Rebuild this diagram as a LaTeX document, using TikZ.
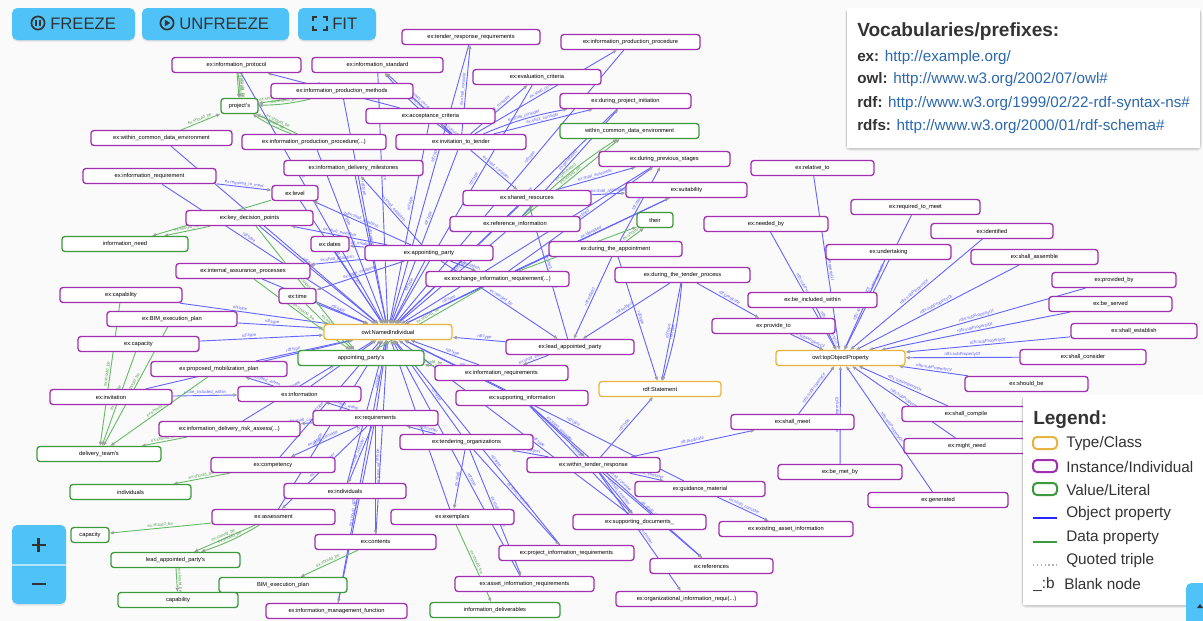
\documentclass[tikz,border=0pt]{standalone}
\usepackage{fontspec}
\setmainfont{Liberation Sans}
\usetikzlibrary{arrows.meta}
\pgfdeclarelayer{back}
\pgfdeclarelayer{edges}
\pgfsetlayers{back,edges,main}

\definecolor{bgc}{HTML}{FAFAFA}
\definecolor{purp}{HTML}{A030B0}
\definecolor{grn}{HTML}{3C9A3C}
\definecolor{orng}{HTML}{E8B440}
\definecolor{bl}{HTML}{6464FF}
\definecolor{gl}{HTML}{66BB66}
\definecolor{btn}{HTML}{4FC3F7}
\definecolor{txt}{HTML}{333333}
\definecolor{url}{HTML}{2B68AE}

\tikzset{
  nd/.style={fill=white, rounded corners=2.2pt, line width=1pt, inner sep=0pt,
    minimum height=11.25pt, font=\fontsize{4.3}{5}\selectfont, text=black},
  ind/.style={nd, draw=purp},
  cls/.style={nd, draw=orng},
  lit/.style={nd, draw=grn},
  oe/.style={draw=bl, line width=0.68pt, -{Triangle[length=3pt,width=2.4pt,color=gray!75]}},
  de/.style={draw=gl, line width=0.68pt, -{Triangle[length=3pt,width=2.4pt,color=gray!75]}},
  ol/.style={sloped, above, inner sep=0.4pt, font=\fontsize{3.2}{3.5}\selectfont, text=bl},
  dl/.style={sloped, above, inner sep=0.4pt, font=\fontsize{3.2}{3.5}\selectfont, text=gl!85!black},
  legtxt/.style={anchor=west, inner sep=0pt, font=\fontsize{11.5}{13}\selectfont, text=txt},
  voctxt/.style={anchor=west, inner sep=0pt, font=\fontsize{11.4}{13}\selectfont, text=txt},
  btntxt/.style={anchor=west, inner sep=0pt, font=\fontsize{12.5}{14}\selectfont, text=txt},
}

% box from x1 to x2 centred at height y
\newcommand\nodebox[6]{\node[#1, minimum width={(#4-#3)*0.75pt}] (#2) at ({(#3+#4)/2},#5) {#6};}
\newcommand\eo[3]{\draw[oe] (#1) -- node[ol]{#3} (#2);}
\newcommand\eob[3]{\draw[oe] (#1) to[bend left=6] node[ol]{#3} (#2);}
\newcommand\ed[3]{\draw[de] (#1) -- node[dl]{#3} (#2);}
\newcommand\edb[3]{\draw[de] (#1) to[bend left=6] node[dl]{#3} (#2);}
\newcommand\tyedge[1]{\draw[oe] (#1) -- node[ol, pos=0.4]{rdf:type} (ni);}
\newcommand\subedge[1]{\eo{#1}{topp}{rdfs:subPropertyOf}}
\newcommand\softshadow[4]{\foreach \k in {0.5,1,...,3}{\fill[black,opacity=0.035,rounded corners=3]
  ({#1-\k*0.6},{#2+\k*0.3}) rectangle ({#3+\k*0.6},{#4+\k});}}

\begin{document}
\begin{tikzpicture}[x=0.75pt,y=-0.75pt]
\begin{pgfonlayer}{back}
\fill[bgc] (0,0) rectangle (1203,621);
\end{pgfonlayer}
\useasboundingbox (0,0) rectangle (1203,621);

% ---------- individuals ----------
\nodebox{ind}{iprot}{172}{301}{65}{ex:information\_protocol}
\nodebox{ind}{istd}{312}{443}{65}{ex:information\_standard}
\nodebox{ind}{trr}{402}{540}{37}{ex:tender\_response\_requirements}
\nodebox{ind}{ipp}{561}{700}{42}{ex:information\_production\_procedure}
\nodebox{ind}{evc}{473}{601}{77}{ex:evaluation\_criteria}
\nodebox{ind}{ipm}{271}{413}{91}{ex:information\_production\_methods}
\nodebox{ind}{acc}{366}{495}{116}{ex:acceptance\_criteria}
\nodebox{ind}{dpi}{560}{691}{101}{ex:during\_project\_initiation}
\nodebox{ind}{wcde}{91}{232}{138}{ex:within\_common\_data\_environment}
\nodebox{ind}{ippx}{242}{386}{142}{ex:information\_production\_procedure(...)}
\nodebox{ind}{itt}{396}{526}{142}{ex:invitation\_to\_tender}
\nodebox{ind}{ireq}{83}{216}{176}{ex:information\_requirement}
\nodebox{ind}{idm}{284}{423}{168}{ex:information\_delivery\_milestones}
\nodebox{ind}{dps}{599}{730}{159}{ex:during\_previous\_stages}
\nodebox{ind}{lvl}{272}{318}{193}{ex:level}
\nodebox{ind}{shr}{463}{591}{198}{ex:shared\_resources}
\nodebox{ind}{suit}{626}{747}{190}{ex:suitability}
\nodebox{ind}{rel}{751}{874}{168}{ex:relative\_to}
\nodebox{ind}{rtm}{851}{980}{207}{ex:required\_to\_meet}
\nodebox{ind}{idf}{931}{1053}{231}{ex:identified}
\nodebox{ind}{sas}{971}{1098}{257}{ex:shall\_assemble}
\nodebox{ind}{pby}{1052}{1176}{280}{ex:provided\_by}
\nodebox{ind}{bsv}{1049}{1172}{304}{ex:be\_served}
\nodebox{ind}{sest}{1071}{1197}{331}{ex:shall\_establish}
\nodebox{ind}{scon}{1020}{1146}{357}{ex:shall\_consider}
\nodebox{ind}{sbe}{965}{1088}{384}{ex:should\_be}
\nodebox{ind}{scmp}{902}{1030}{414}{ex:shall\_compile}
\nodebox{ind}{mnd}{904}{1030}{446}{ex:might\_need}
\nodebox{ind}{gen}{868}{1008}{500}{ex:generated}
\nodebox{ind}{und}{826}{951}{252}{ex:undertaking}
\nodebox{ind}{nby}{704}{828}{224}{ex:needed\_by}
\nodebox{ind}{biw}{748}{877}{300}{ex:be\_included\_within}
\nodebox{ind}{pto}{712}{835}{326}{ex:provide\_to}
\nodebox{ind}{dtp}{615}{750}{275}{ex:during\_the\_tender\_process}
\nodebox{ind}{dta}{549}{682}{249}{ex:during\_the\_appointment}
\nodebox{ind}{refi}{450}{580}{224}{ex:reference\_information}
\nodebox{ind}{dat}{311}{349}{244}{ex:dates}
\nodebox{ind}{apt}{365}{493}{253}{ex:appointing\_party}
\nodebox{ind}{kdp}{186}{313}{218}{ex:key\_decision\_points}
\nodebox{ind}{iap}{176}{310}{271}{ex:internal\_assurance\_processes}
\nodebox{ind}{eir}{426}{569}{279}{ex:exchange\_information\_requirement(...)}
\nodebox{ind}{tim}{279}{316}{296}{ex:time}
\nodebox{ind}{cap}{60}{182}{295}{ex:capability}
\nodebox{ind}{bep}{107}{237}{319}{ex:BIM\_execution\_plan}
\nodebox{ind}{cpc}{78}{199}{344}{ex:capacity}
\nodebox{ind}{lap}{506}{634}{347}{ex:lead\_appointed\_party}
\nodebox{ind}{ireqs}{435}{568}{373}{ex:information\_requirements}
\nodebox{ind}{pmp}{151}{287}{369}{ex:proposed\_mobilization\_plan}
\nodebox{ind}{inf}{238}{361}{394}{ex:information}
\nodebox{ind}{inv}{50}{172}{397}{ex:invitation}
\nodebox{ind}{sinf}{456}{588}{398}{ex:supporting\_information}
\nodebox{ind}{req}{313}{438}{418}{ex:requirements}
\nodebox{ind}{idra}{159}{300}{429}{ex:information\_delivery\_risk\_assess(...)}
\nodebox{ind}{tor}{400}{533}{442}{ex:tendering\_organizations}
\nodebox{ind}{wtr}{527}{660}{465}{ex:within\_tender\_response}
\nodebox{ind}{smt}{731}{854}{422}{ex:shall\_meet}
\nodebox{ind}{bmb}{778}{902}{472}{ex:be\_met\_by}
\nodebox{ind}{cmp}{211}{335}{465}{ex:competency}
\nodebox{ind}{indv}{284}{406}{491}{ex:individuals}
\nodebox{ind}{gdm}{635}{765}{489}{ex:guidance\_material}
\nodebox{ind}{ass}{212}{335}{517}{ex:assessment}
\nodebox{ind}{exm}{391}{514}{517}{ex:exemplars}
\nodebox{ind}{sdoc}{573}{706}{522}{ex:supporting\_documents\_}
\nodebox{ind}{eai}{719}{853}{529}{ex:existing\_asset\_information}
\nodebox{ind}{cnt}{315}{436}{542}{ex:contents}
\nodebox{ind}{pir}{499}{634}{553}{ex:project\_information\_requirements}
\nodebox{ind}{refs}{650}{773}{566}{ex:references}
\nodebox{ind}{air}{455}{594}{584}{ex:asset\_information\_requirements}
\nodebox{ind}{imf}{266}{407}{611}{ex:information\_management\_function}
\nodebox{ind}{oir}{616}{757}{599}{ex:organizational\_information\_requi(...)}

% ---------- classes ----------
\nodebox{cls}{ni}{324}{452}{332}{owl:NamedIndividual}
\nodebox{cls}{topp}{776}{905}{358}{owl:topObjectProperty}
\nodebox{cls}{stm}{599}{721}{389}{rdf:Statement}

% ---------- literals ----------
\nodebox{lit}{prj}{221}{258}{106}{project's}
\nodebox{lit}{lcde}{560}{699}{131}{within\_common\_data\_environment}
\nodebox{lit}{their}{637}{673}{220}{their}
\nodebox{lit}{need}{62}{188}{244}{information\_need}
\nodebox{lit}{aps}{298}{424}{358}{appointing\_party's}
\nodebox{lit}{dtm}{37}{161}{454}{delivery\_team's}
\nodebox{lit}{lindv}{70}{191}{492}{individuals}
\nodebox{lit}{lcap}{71}{109}{535}{capacity}
\nodebox{lit}{laps}{111}{240}{560}{lead\_appointed\_party's}
\nodebox{lit}{lbep}{219}{347}{585}{BIM\_execution\_plan}
\nodebox{lit}{lcapb}{118}{238}{600}{capability}
\nodebox{lit}{ldel}{430}{560}{610}{information\_deliverables}

% ---------- connectors ----------
\begin{pgfonlayer}{edges}
% typing of the individuals
\tyedge{iprot}\tyedge{istd}\tyedge{trr}\tyedge{ipp}\tyedge{evc}\tyedge{ipm}
\tyedge{acc}\tyedge{dpi}\tyedge{wcde}\tyedge{ippx}\tyedge{itt}\tyedge{ireq}
\tyedge{idm}\tyedge{dps}\tyedge{lvl}\tyedge{shr}\tyedge{suit}\tyedge{refi}
\tyedge{dat}\tyedge{apt}\tyedge{kdp}\tyedge{iap}\tyedge{eir}\tyedge{tim}
\tyedge{cap}\tyedge{bep}\tyedge{cpc}\tyedge{lap}\tyedge{ireqs}\tyedge{pmp}
\tyedge{inf}\tyedge{inv}\tyedge{sinf}\tyedge{req}\tyedge{idra}\tyedge{tor}
\tyedge{cmp}\tyedge{indv}\tyedge{gdm}\tyedge{ass}\tyedge{exm}\tyedge{sdoc}
\tyedge{cnt}\tyedge{pir}\tyedge{air}\tyedge{imf}

% property hierarchy
\subedge{rel}\subedge{rtm}\subedge{idf}\subedge{sas}\subedge{pby}\subedge{bsv}
\subedge{sest}\subedge{scon}\subedge{sbe}\subedge{scmp}\subedge{mnd}\subedge{gen}
\subedge{und}\subedge{nby}\subedge{biw}\subedge{pto}\subedge{smt}\subedge{bmb}

% object properties between individuals
\eo{itt}{trr}{ex:shall\_consider}
\eo{itt}{evc}{ex:shall\_consider}
\eo{itt}{ipp}{ex:shall\_consider}
\eo{itt}{dpi}{ex:shall\_consider}
\eob{itt}{dpi}{ex:shall\_consider}
\eo{itt}{istd}{ex:shall\_consider}
\eob{itt}{istd}{ex:shall\_consider}
\eo{itt}{shr}{ex:shall\_consider}
\eo{itt}{acc}{ex:shall\_consider}
\eo{acc}{iprot}{ex:shall\_establish}
\eo{ireq}{lvl}{ex:required\_to\_meet}
\eo{apt}{dat}{ex:shall\_establish}
\eo{apt}{idm}{ex:shall\_establish}
\eo{apt}{kdp}{ex:shall\_establish}
\eo{apt}{iap}{ex:shall\_establish}
\eo{apt}{eir}{ex:shall\_establish}
\eo{apt}{tim}{ex:shall\_establish}
\eo{apt}{lvl}{ex:shall\_establish}
\eo{refi}{dpi}{ex:generated}
\eo{shr}{dps}{ex:shall\_assemble}
\eo{eir}{dps}{ex:identified}
\eo{shr}{suit}{ex:shall\_assemble}
\eo{eir}{suit}{ex:identified}
\eo{lap}{ireqs}{ex:shall\_establish}
\eo{lap}{shr}{ex:shall\_assemble}
\eo{apt}{lap}{ex:needed\_by}
\eo{sinf}{wtr}{ex:shall\_consider}
\eo{inv}{inf}{ex:be\_included\_within}
\eo{req}{inf}{ex:be\_included\_within}
\eo{inf}{pmp}{ex:be\_included\_within}
\eo{req}{idra}{ex:shall\_consider}
\eo{req}{cmp}{ex:shall\_consider}
\eo{req}{indv}{ex:shall\_consider}
\eo{req}{ass}{ex:shall\_consider}
\eo{req}{cnt}{ex:shall\_consider}
\eo{req}{imf}{ex:should\_be}
\eo{tor}{req}{ex:shall\_consider}
\eo{tor}{exm}{ex:shall}
\eo{tor}{air}{ex:shall\_consider}
\eo{tor}{pir}{ex:shall\_consider}
\eo{wtr}{gdm}{ex:shall\_consider}
\eo{wtr}{sdoc}{ex:shall\_consider}
\eo{wtr}{refs}{ex:shall\_consider}
\eo{wtr}{oir}{ex:shall\_consider}
\eo{gdm}{eai}{ex:shall\_consider}
\eo{sinf}{sdoc}{ex:shall\_consider}
\eo{sinf}{refs}{ex:shall\_consider}

% quoted statements
\eo{wtr}{smt}{rdf:predicate}
\eo{wtr}{stm}{rdf:type}
\eo{wtr}{tor}{rdf:subject}
\eo{dtp}{stm}{rdf:type}
\eob{dtp}{stm}{rdf:type}
\eo{dta}{stm}{rdf:type}
\eo{dtp}{pto}{rdf:predicate}
\eo{dtp}{lap}{rdf:subject}
\eo{dta}{lap}{rdf:subject}
\eo{dta}{dps}{rdf:object}

% data properties
\ed{iprot}{prj}{ex:should\_be}\edb{iprot}{prj}{ex:should\_be}
\ed{ipm}{prj}{ex:should\_be}\edb{ipm}{prj}{ex:should\_be}
\ed{wcde}{prj}{ex:should\_be}
\ed{ippx}{prj}{ex:should\_be}\edb{ippx}{prj}{ex:should\_be}
\ed{kdp}{need}{ex:should\_be}
\ed{lvl}{need}{ex:should\_be}
\ed{cap}{dtm}{ex:should\_be}
\ed{bep}{dtm}{ex:should\_be}
\ed{cpc}{dtm}{ex:should\_be}
\ed{pmp}{dtm}{ex:should\_be}
\ed{idra}{dtm}{ex:should\_be}
\ed{cmp}{lindv}{ex:should\_be}
\ed{ass}{lcap}{ex:should\_be}
\ed{ass}{laps}{ex:should\_be}\edb{ass}{laps}{ex:should\_be}
\ed{laps}{lcapb}{ex:should\_be}
\ed{cnt}{lbep}{ex:should\_be}
\ed{exm}{ldel}{ex:should\_be}
\ed{dta}{their}{ex:should\_be}
\ed{refi}{lcde}{ex:should\_be}\edb{refi}{lcde}{ex:generated}
\ed{eir}{aps}{ex:should\_be}
\ed{ireqs}{aps}{ex:should\_be}
\ed{kdp}{aps}{ex:should\_be}
\ed{iap}{aps}{ex:should\_be}
\ed{tim}{aps}{ex:should\_be}
\ed{eir}{their}{ex:should\_be}
\end{pgfonlayer}

% ---------- prefix panel ----------
\softshadow{847}{8}{1200}{148}
\fill[white] (847,8) rectangle (1200,148);
\node[anchor=west, inner sep=0pt, font=\fontsize{14.3}{16}\selectfont\bfseries, text=txt] (vtitle) at (857,32) {Vocabularies/prefixes:};
\node[voctxt] (vex) at (857,58) {\textbf{ex:} \textcolor{url}{http://example.org/}};
\node[voctxt] (vowl) at (857,80) {\textbf{owl:} \textcolor{url}{http://www.w3.org/2002/07/owl\#}};
\node[voctxt] (vrdf) at (857,104) {\textbf{rdf:} \textcolor{url}{http://www.w3.org/1999/02/22-rdf-syntax-ns\#}};
\node[voctxt] (vrdfs) at (857,127) {\textbf{rdfs:} \textcolor{url}{http://www.w3.org/2000/01/rdf-schema\#}};

% ---------- legend ----------
\softshadow{1023}{395}{1203}{605}
\fill[white] (1023,395) rectangle (1203,605);
\node[anchor=west, inner sep=0pt, font=\fontsize{14.25}{16}\selectfont\bfseries, text=txt] (lgt) at (1033,420) {Legend:};
\draw[orng, line width=1.5pt, rounded corners=3pt] (1033,437) rectangle (1057,449);
\draw[purp, line width=1.5pt, rounded corners=3pt] (1033,460) rectangle (1057,472);
\draw[grn, line width=1.5pt, rounded corners=3pt] (1033,483) rectangle (1057,495);
\draw[blue!85, line width=1.4pt] (1033,518) -- (1057,518);
\draw[grn, line width=1.4pt] (1033,542) -- (1057,542);
\draw[gray!60, line width=0.9pt, dotted] (1033,565) -- (1057,565);
\node[legtxt] (l1) at (1066,444) {Type/Class};
\node[legtxt] (l2) at (1066,467) {Instance/Individual};
\node[legtxt] (l3) at (1066,490) {Value/Literal};
\node[legtxt] (l4) at (1066,514) {Object property};
\node[legtxt] (l5) at (1066,538) {Data property};
\node[legtxt] (l6) at (1066,561) {Quoted triple};
\node[legtxt] (l7) at (1033,584) {\_:b};
\node[legtxt] (l8) at (1064,584) {Blank node};

% ---------- control buttons ----------
\foreach \a/\b in {12/135,142/289,298/376}{
  \fill[black,opacity=0.06,rounded corners=4] (\a,9) rectangle (\b,42);
  \fill[black,opacity=0.06,rounded corners=4] (\a,9) rectangle (\b,41);
  \fill[btn,rounded corners=4] (\a,8) rectangle (\b,40);}
% pause icon
\draw[txt, line width=1.3pt] (38,23) circle (6.6);
\draw[txt, line width=1.3pt] (36.2,19.8) -- (36.2,26.2) (39.8,19.8) -- (39.8,26.2);
\node[btntxt] (bfr) at (50,24) {FREEZE};
% play icon
\draw[txt, line width=1.3pt] (167,23) circle (6.6);
\fill[txt] (164.8,19.6) -- (164.8,26.4) -- (170.2,23) -- cycle;
\node[btntxt] (bun) at (179,24) {UNFREEZE};
% fit icon
\draw[txt, line width=1.3pt] (313,21) -- (313,17) -- (317,17) (323,17) -- (327,17) -- (327,21)
  (327,26) -- (327,30) -- (323,30) (317,30) -- (313,30) -- (313,26);
\node[btntxt] (bfit) at (332,24) {FIT};

% zoom buttons
\fill[black,opacity=0.07,rounded corners=4] (12,526) rectangle (66,606);
\fill[btn,rounded corners=4] (12,525) rectangle (66,604);
\draw[white!55!btn, line width=0.8pt] (12,565) -- (66,565);
\draw[txt, line width=2.2pt] (31.5,545) -- (45.5,545) (38.5,538) -- (38.5,552);
\draw[txt, line width=2.2pt] (31.5,584) -- (45.5,584);

% corner button
\fill[btn,rounded corners=4] (1186,583) rectangle (1215,630);
\fill[txt] (1197,608) -- (1203,608) -- (1200,604) -- cycle;
\end{tikzpicture}
\end{document}
